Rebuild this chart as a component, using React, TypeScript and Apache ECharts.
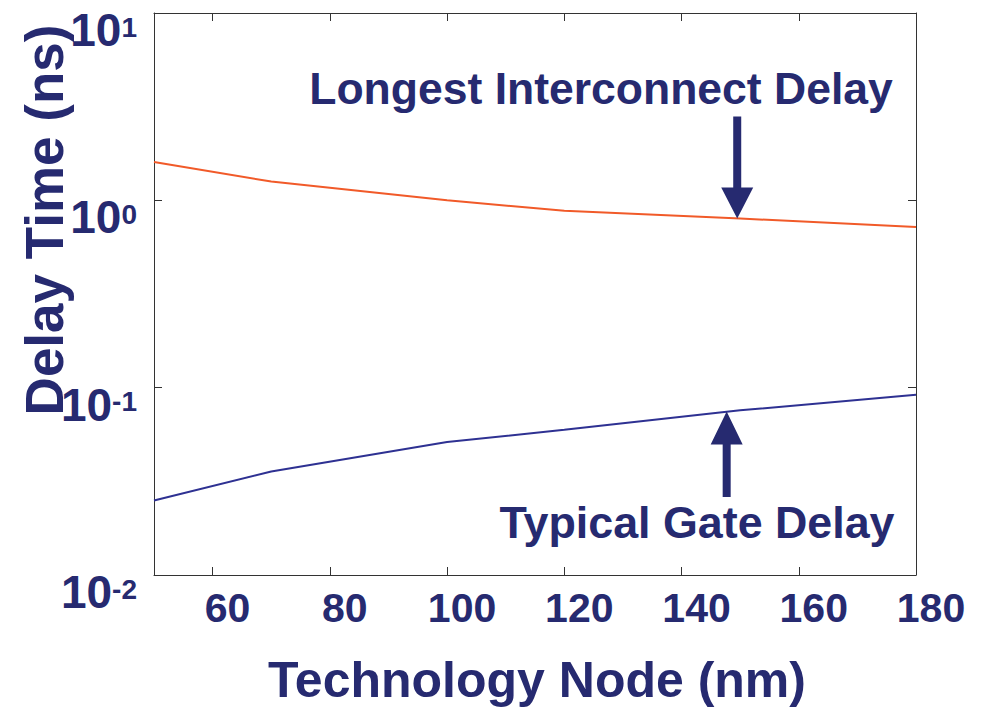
import React, { useEffect, useRef } from "react";
import * as echarts from "echarts";

// Technology node (nm) and the two delay curves (ns)
const nodes = [50, 70, 100, 120, 150, 180];
const interconnectDelay = [1.6, 1.26, 1.0, 0.88, 0.8, 0.72];
const gateDelay = [0.025, 0.0357, 0.0513, 0.0596, 0.0757, 0.0916];
const xTickValues = [60, 80, 100, 120, 140, 160, 180];

// Annotation arrows in data space: x, tail value, tip value
const interconnectArrow = { x: 149.5, tail: 2.8, tip: 0.8 };
const gateArrow = { x: 147.7, tail: 0.0261, tip: 0.0745 };

const INK = "#262a70";
const ORANGE = "#f15a29";
const BLUE = "#2e3192";
const FRAME = "#333333";
const FONT = "'Liberation Sans', Arial, Helvetica, sans-serif";

export default function App() {
  const ref = useRef<HTMLDivElement>(null);

  useEffect(() => {
    const chart = echarts.init(ref.current!, null, { renderer: "svg" });

    const frameLine = { show: true, lineStyle: { color: FRAME, width: 1 } };
    const innerTick = { show: true, inside: true, length: 8, lineStyle: { color: FRAME, width: 1 } };

    const expLabel = (v: number) => {
      const e = Math.round(Math.log10(v));
      return `{base|10}{sup|${e}}`;
    };

    chart.setOption({
      animation: false,
      backgroundColor: "#ffffff",
      grid: { left: 154, right: 69, top: 13, bottom: 136, containLabel: false },
      xAxis: [
        {
          type: "value",
          min: 50,
          max: 180,
          position: "bottom",
          axisLine: frameLine,
          axisTick: { ...innerTick, customValues: xTickValues },
          splitLine: { show: false },
          axisLabel: {
            customValues: xTickValues,
            margin: 12,
            color: INK,
            fontFamily: FONT,
            fontWeight: "bold",
            fontSize: 41,
            padding: [0, 0, 0, 30],
          },
        },
        {
          type: "value",
          min: 50,
          max: 180,
          position: "top",
          axisLine: frameLine,
          axisTick: { ...innerTick, customValues: xTickValues },
          axisLabel: { show: false },
          splitLine: { show: false },
        },
      ],
      yAxis: [
        {
          type: "log",
          logBase: 10,
          min: 0.01,
          max: 10,
          position: "left",
          axisLine: frameLine,
          axisTick: innerTick,
          minorTick: { show: false },
          splitLine: { show: false },
          axisLabel: {
            formatter: expLabel,
            margin: 17,
            verticalAlign: "top",
            color: INK,
            fontFamily: FONT,
            fontWeight: "bold",
            fontSize: 46,
            rich: {
              base: { fontSize: 46, lineHeight: 40, fontWeight: "bold", color: INK, fontFamily: FONT, verticalAlign: "bottom" },
              sup: { fontSize: 28, lineHeight: 24, fontWeight: "bold", color: INK, fontFamily: FONT, verticalAlign: "top" },
            },
          },
        },
        {
          type: "log",
          logBase: 10,
          min: 0.01,
          max: 10,
          position: "right",
          axisLine: frameLine,
          axisTick: innerTick,
          minorTick: { show: false },
          axisLabel: { show: false },
          splitLine: { show: false },
        },
      ],
      series: [
        {
          name: "Longest Interconnect Delay",
          type: "line",
          data: nodes.map((n, i) => [n, interconnectDelay[i]]),
          showSymbol: false,
          smooth: false,
          lineStyle: { color: ORANGE, width: 2 },
          z: 3,
        },
        {
          name: "Typical Gate Delay",
          type: "line",
          data: nodes.map((n, i) => [n, gateDelay[i]]),
          showSymbol: false,
          smooth: false,
          lineStyle: { color: BLUE, width: 2 },
          z: 3,
        },
      ],
    });

    const px = (x: number, y: number) =>
      chart.convertToPixel({ gridIndex: 0 }, [x, y]) as number[];

    // Block arrow: shaft plus triangular head, pointing from tail to tip
    const arrow = (a: { x: number; tail: number; tip: number }, headH: number, headW: number, shaftW: number) => {
      const [cx, yTail] = px(a.x, a.tail);
      const [, yTip] = px(a.x, a.tip);
      const dir = yTip > yTail ? 1 : -1;
      const yBase = yTip - dir * headH;
      return {
        type: "polygon",
        z: 10,
        shape: {
          points: [
            [cx - shaftW / 2, yTail],
            [cx + shaftW / 2, yTail],
            [cx + shaftW / 2, yBase],
            [cx + headW / 2, yBase],
            [cx, yTip],
            [cx - headW / 2, yBase],
            [cx - shaftW / 2, yBase],
          ],
        },
        style: { fill: INK },
      };
    };

    chart.setOption({
      graphic: [
        arrow(interconnectArrow, 31, 32, 8),
        arrow(gateArrow, 33, 32, 8),
        {
          type: "text",
          x: 601,
          y: 88,
          z: 10,
          style: {
            text: "Longest Interconnect Delay",
            fill: INK,
            font: `bold 44.5px ${FONT}`,
            textAlign: "center",
            textVerticalAlign: "middle",
          },
        },
        {
          type: "text",
          x: 697,
          y: 522,
          z: 10,
          style: {
            text: "Typical Gate Delay",
            fill: INK,
            font: `bold 44.8px ${FONT}`,
            textAlign: "center",
            textVerticalAlign: "middle",
          },
        },
        {
          type: "text",
          x: 537,
          y: 680,
          style: {
            text: "Technology Node (nm)",
            fill: INK,
            font: `bold 50px ${FONT}`,
            textAlign: "center",
            textVerticalAlign: "middle",
          },
        },
        {
          type: "text",
          x: 44,
          y: 220,
          rotation: Math.PI / 2,
          style: {
            text: "Delay Time (ns)",
            fill: INK,
            font: `bold 53px ${FONT}`,
            textAlign: "center",
            textVerticalAlign: "middle",
          },
        },
      ],
    });

    return () => chart.dispose();
  }, []);

  return (
    <div
      ref={ref}
      style={{ position: "absolute", left: 0, top: 0, width: 985, height: 711 }}
    />
  );
}
